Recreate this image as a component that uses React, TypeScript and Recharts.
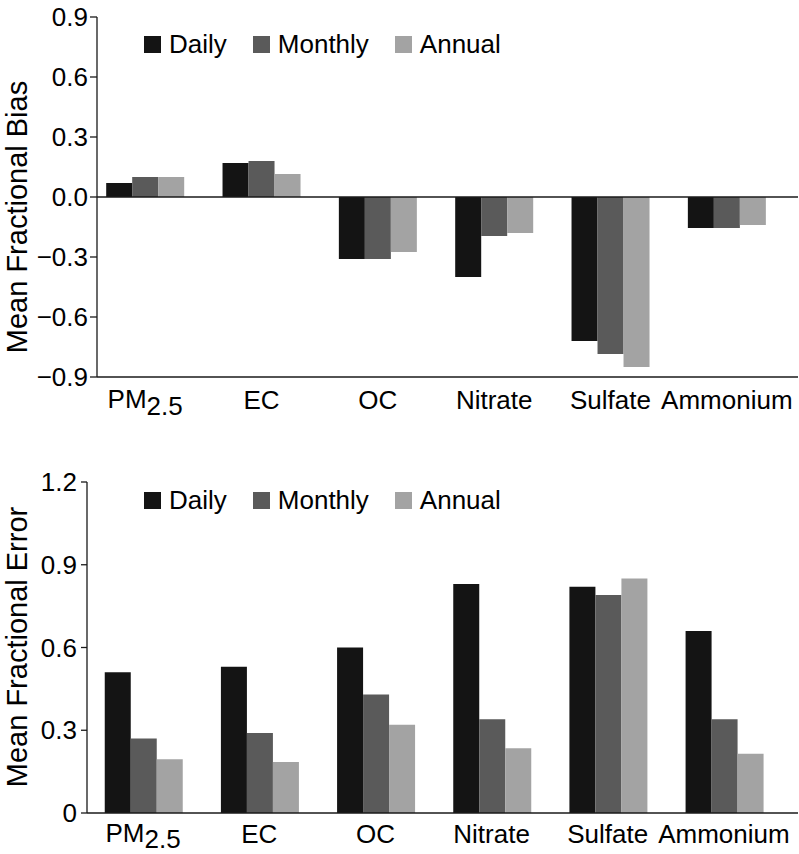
import { BarChart, Bar, XAxis, YAxis, Legend, ReferenceLine } from "recharts";

const categories = ["PM2.5", "EC", "OC", "Nitrate", "Sulfate", "Ammonium"];
const seriesNames = ["Daily", "Monthly", "Annual"];

const biasDaily = [0.07, 0.17, -0.31, -0.4, -0.72, -0.155];
const biasMonthly = [0.1, 0.18, -0.31, -0.195, -0.785, -0.155];
const biasAnnual = [0.1, 0.115, -0.275, -0.18, -0.85, -0.14];

const errorDaily = [0.51, 0.53, 0.6, 0.83, 0.82, 0.66];
const errorMonthly = [0.27, 0.29, 0.43, 0.34, 0.79, 0.34];
const errorAnnual = [0.195, 0.185, 0.32, 0.235, 0.85, 0.215];

const biasTicks = [-0.9, -0.6, -0.3, 0, 0.3, 0.6, 0.9];
const errorTicks = [0, 0.3, 0.6, 0.9, 1.2];

const COLORS = ["#141414", "#5a5a5a", "#a3a3a3"];
const FONT = "'Liberation Sans', Arial, Helvetica, sans-serif";
const AXIS = "#1a1a1a";

const biasData = categories.map((name, i) => ({
  name,
  Daily: biasDaily[i],
  Monthly: biasMonthly[i],
  Annual: biasAnnual[i],
}));

const errorData = categories.map((name, i) => ({
  name,
  Daily: errorDaily[i],
  Monthly: errorMonthly[i],
  Annual: errorAnnual[i],
}));

const fmtBias = (v: number) => (v < 0 ? "\u2212" + Math.abs(v).toFixed(1) : v.toFixed(1));
const fmtError = (v: number) => (v === 0 ? "0" : v.toFixed(1));

function CategoryTick(props: any) {
  const { x, y, payload, base = 32, sub = 6.5 } = props;
  const label = String(payload.value);
  if (label === "PM2.5") {
    return (
      <text x={x} y={y} textAnchor="middle" fontSize={26} fontFamily={FONT} fill="#000">
        <tspan dy={base - 1}>PM</tspan>
        <tspan dy={sub}>2.5</tspan>
      </text>
    );
  }
  return (
    <text x={x} y={y} dy={base} textAnchor="middle" fontSize={26} fontFamily={FONT} fill="#000">
      {label}
    </text>
  );
}

// legend drawn in series order (recharts reorders its own payload)
function LegendBox() {
  return (
    <div style={{ display: "flex", alignItems: "center", height: 26, fontFamily: FONT, fontSize: 26 }}>
      {seriesNames.map((name, i) => (
        <div key={name} style={{ display: "flex", alignItems: "center", marginLeft: i === 0 ? 0 : 26 }}>
          <span style={{ display: "inline-block", width: 17, height: 17, background: COLORS[i], marginRight: 8 }} />
          <span style={{ color: "#000", lineHeight: "26px" }}>{name}</span>
        </div>
      ))}
    </div>
  );
}

function YTitle({ text }: { text: string }) {
  return (
    <text
      x={16.5}
      y={217}
      transform="rotate(-90 16.5 217)"
      textAnchor="middle"
      dominantBaseline="central"
      fontSize={29}
      fontFamily={FONT}
      fill="#000"
    >
      {text}
    </text>
  );
}

export default function App() {
  return (
    <div style={{ position: "absolute", left: 0, top: 0, width: 799, height: 854, background: "#fff" }}>
      <div style={{ position: "absolute", left: 0, top: 0 }}>
        <BarChart
          width={799}
          height={420}
          data={biasData}
          margin={{ top: 17, right: 1, bottom: 0, left: 0 }}
          barCategoryGap="16.5%"
          barGap={0}
        >
          <XAxis
            dataKey="name"
            height={43}
            padding={{ left: -10, right: 13 }}
            tickLine={false}
            tickSize={0}
            tickMargin={0}
            axisLine={{ stroke: AXIS, strokeWidth: 1.3 }}
            tick={<CategoryTick base={32} sub={6.5} />}
            interval={0}
          />
          <YAxis
            width={97}
            domain={[-0.9, 0.9]}
            ticks={biasTicks}
            tickFormatter={fmtBias}
            tickSize={7}
            tickMargin={2}
            axisLine={{ stroke: AXIS, strokeWidth: 1.3 }}
            tickLine={{ stroke: AXIS, strokeWidth: 1.3 }}
            tick={{ fontSize: 26, fill: "#000", fontFamily: FONT }}
            allowDataOverflow
          />
          <ReferenceLine y={0} stroke={AXIS} strokeWidth={1.3} />
          <Legend
            layout="horizontal"
            verticalAlign="middle"
            align="center"
            content={<LegendBox />}
            wrapperStyle={{ position: "absolute", left: 144, top: 31, width: "auto" }}
          />
          {seriesNames.map((s, i) => (
            <Bar key={s} dataKey={s} fill={COLORS[i]} isAnimationActive={false} />
          ))}
          <YTitle text="Mean Fractional Bias" />
        </BarChart>
      </div>
      <div style={{ position: "absolute", left: 0, top: 430 }}>
        <BarChart
          width={799}
          height={424}
          data={errorData}
          margin={{ top: 52, right: 1, bottom: 0, left: 0 }}
          barCategoryGap="17%"
          barGap={0}
        >
          <XAxis
            dataKey="name"
            height={41}
            padding={{ left: -2, right: 16 }}
            tickLine={false}
            tickSize={0}
            tickMargin={0}
            axisLine={{ stroke: AXIS, strokeWidth: 1.3 }}
            tick={<CategoryTick base={30} sub={5.5} />}
            interval={0}
          />
          <YAxis
            width={87}
            domain={[0, 1.2]}
            ticks={errorTicks}
            tickFormatter={fmtError}
            tickSize={6}
            tickMargin={4}
            axisLine={{ stroke: AXIS, strokeWidth: 1.3 }}
            tickLine={{ stroke: AXIS, strokeWidth: 1.3 }}
            tick={{ fontSize: 26, fill: "#000", fontFamily: FONT }}
            allowDataOverflow
          />
          <Legend
            layout="horizontal"
            verticalAlign="middle"
            align="center"
            content={<LegendBox />}
            wrapperStyle={{ position: "absolute", left: 144, top: 57, width: "auto" }}
          />
          {seriesNames.map((s, i) => (
            <Bar key={s} dataKey={s} fill={COLORS[i]} isAnimationActive={false} />
          ))}
          <YTitle text="Mean Fractional Error" />
        </BarChart>
      </div>
    </div>
  );
}
